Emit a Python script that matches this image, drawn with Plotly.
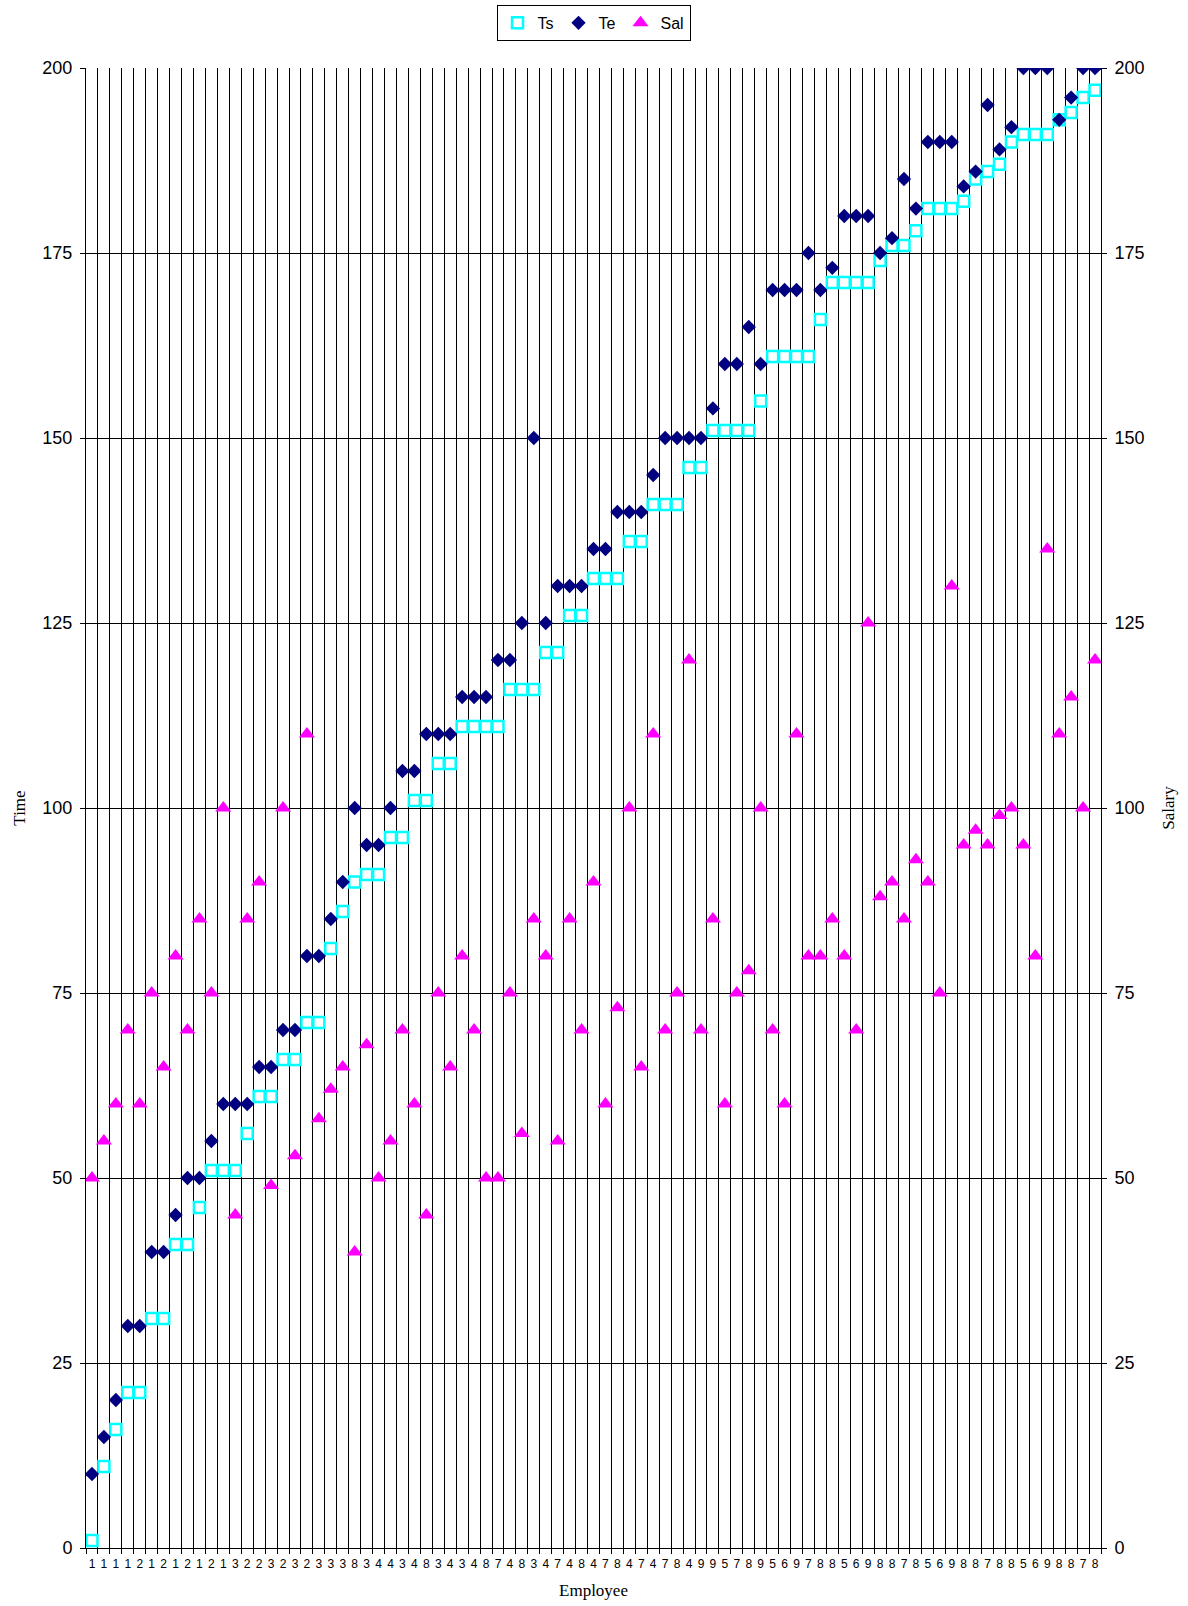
import plotly.graph_objects as go

# Department code shown under each employee
dept = [1, 1, 1, 1, 2, 1, 2, 1, 2, 1, 2, 1, 3, 2, 2, 3, 2, 3, 2, 3, 3, 3, 8, 3,
        4, 4, 3, 4, 8, 3, 4, 3, 4, 8, 7, 4, 8, 3, 4, 7, 4, 8, 4, 7, 8, 4, 7, 4,
        7, 8, 4, 9, 9, 5, 7, 8, 9, 5, 6, 9, 7, 8, 8, 5, 6, 9, 8, 8, 7, 8, 5, 6, 9,
        8, 8, 7, 8, 8, 5, 6, 9, 8, 8, 7, 8]

# Start time
ts = [1, 11, 16, 21, 21, 31, 31, 41, 41, 46, 51, 51, 51, 56, 61, 61, 66, 66, 71, 71,
      81, 86, 90, 91, 91, 96, 96, 101, 101, 106, 106, 111, 111, 111, 111, 116, 116, 116,
      121, 121, 126, 126, 131, 131, 131, 136, 136, 141, 141, 141, 146, 146, 151, 151,
      151, 151, 155, 161, 161, 161, 161, 166, 171, 171, 171, 171, 174, 176, 176, 178,
      181, 181, 181, 182, 185, 186, 187, 190, 191, 191, 191, 193, 194, 196, 197]

# End time
te = [10, 15, 20, 30, 30, 40, 40, 45, 50, 50, 55, 60, 60, 60, 65, 65, 70, 70, 80, 80,
      85, 90, 100, 95, 95, 100, 105, 105, 110, 110, 110, 115, 115, 115, 120, 120, 125,
      150, 125, 130, 130, 130, 135, 135, 140, 140, 140, 145, 150, 150, 150, 150, 154,
      160, 160, 165, 160, 170, 170, 170, 175, 170, 173, 180, 180, 180, 175, 177, 185,
      181, 190, 190, 190, 184, 186, 195, 189, 192, 200, 200, 200, 193, 196, 200, 200]

# Salary
sal = [50, 55, 60, 70, 60, 75, 65, 80, 70, 85, 75, 100, 45, 85, 90, 49, 100, 53, 110,
       58, 62, 65, 40, 68, 50, 55, 70, 60, 45, 75, 65, 80, 70, 50, 50, 75, 56, 85, 80,
       55, 85, 70, 90, 60, 73, 100, 65, 110, 70, 75, 120, 70, 85, 60, 75, 78, 100, 70,
       60, 110, 80, 80, 85, 80, 70, 125, 88, 90, 85, 93, 90, 75, 130, 95, 97, 95, 99,
       100, 95, 80, 135, 110, 115, 100, 120]

emp = list(range(len(dept)))

sans = "Arial, 'Liberation Sans', Helvetica, sans-serif"
serif = "'Times New Roman', 'Liberation Serif', Times, serif"

fig = go.Figure()
fig.add_trace(go.Scatter(
    x=emp, y=ts, mode="markers", name="Ts",
    marker=dict(symbol="square-open", size=11, color="#00FFFF",
                line=dict(width=2.5, color="#00FFFF")),
))
fig.add_trace(go.Scatter(
    x=emp, y=te, mode="markers", name="Te",
    marker=dict(symbol="diamond", size=11, color="#000080"),
))
fig.add_trace(go.Scatter(
    x=emp, y=sal, mode="markers", name="Sal", yaxis="y2",
    marker=dict(symbol="triangle-up", size=14, color="#FF00FF"),
))

fig.update_layout(
    width=1188, height=1606, autosize=False,
    margin=dict(l=86, r=87, t=68, b=58, autoexpand=False),
    paper_bgcolor="white", plot_bgcolor="white",
    font=dict(family=sans, color="black"),
    showlegend=True,
    legend=dict(
        orientation="h", x=0.5, xanchor="center", y=1.0426, yanchor="top",
        bordercolor="black", borderwidth=1, bgcolor="white",
        font=dict(family=sans, size=16), itemwidth=30,
    ),
    xaxis=dict(
        range=[-0.5, len(dept) - 0.5],
        tickmode="array", tickvals=emp, ticktext=[str(d) for d in dept],
        tickangle=0, ticks="", showgrid=False, zeroline=False,
        showline=True, linecolor="black", linewidth=1,
        tickfont=dict(family=sans, size=12), ticklabelstandoff=5,
        minor=dict(
            tickmode="array",
            tickvals=[i - 0.5 for i in range(len(dept) + 1)],
            showgrid=True, gridcolor="black", gridwidth=1,
            ticks="outside", ticklen=5, tickcolor="black",
        ),
        title=dict(text="Employee", font=dict(family=serif, size=17), standoff=13),
    ),
    yaxis=dict(
        range=[0, 200], tick0=0, dtick=25,
        ticks="outside", ticklen=5, tickcolor="black",
        showgrid=True, gridcolor="black", gridwidth=1, zeroline=False,
        showline=True, linecolor="black", linewidth=1,
        tickfont=dict(family=sans, size=18), ticklabelstandoff=4,
        title=dict(text="Time", font=dict(family=serif, size=17), standoff=12),
    ),
    yaxis2=dict(
        overlaying="y", side="right",
        range=[0, 200], tick0=0, dtick=25,
        ticks="outside", ticklen=5, tickcolor="black",
        showgrid=False, zeroline=False,
        showline=True, linecolor="black", linewidth=1,
        tickfont=dict(family=sans, size=18), ticklabelstandoff=4,
        title=dict(text="Salary", font=dict(family=serif, size=17), standoff=18),
    ),
)

fig.write_html("out.html")
